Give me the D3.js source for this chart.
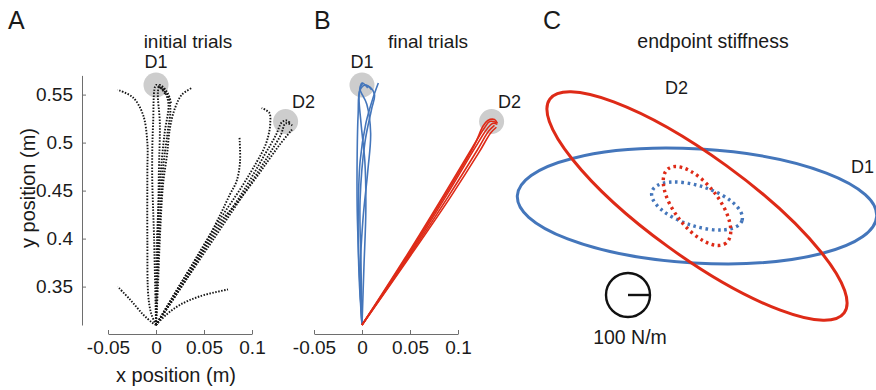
<!DOCTYPE html>
<html>
<head>
<meta charset="utf-8">
<script src="https://cdn.jsdelivr.net/npm/d3@7"></script>
<style>
  body { margin: 0; background: #fff; }
  svg { font-family: "Liberation Sans", Arial, sans-serif; }
</style>
</head>
<body>
<svg width="876" height="390"></svg>
<script>
// ---- data (hand positions in m, stiffness in N/m) ----
const xTicks = [-0.05, 0, 0.05, 0.1];
const yTicks = [0.35, 0.4, 0.45, 0.5, 0.55];
const targetNames = ['D1', 'D2'];
const targetX = [0, 0.135];
const targetY = [0.56, 0.522];

const initialD1 = [
  [[0, 0.31], [-0.005, 0.322], [-0.008, 0.34], [-0.009, 0.40], [-0.009, 0.47], [-0.009, 0.50], [-0.0135, 0.529], [-0.024, 0.547], [-0.04, 0.555]],
  [[0, 0.31], [0.002, 0.35], [0.004, 0.40], [0.0073, 0.456], [0.0115, 0.4875], [0.0146, 0.5156], [0.02, 0.5365], [0.027, 0.55], [0.0375, 0.557]],
  [[0, 0.31], [-0.002, 0.40], [-0.004, 0.47], [-0.003, 0.52], [0, 0.56], [0.004, 0.558], [0.01, 0.55]],
  [[0, 0.31], [0.002, 0.40], [0.003, 0.47], [0.004, 0.52], [0.002, 0.553], [0.004, 0.56], [0.012, 0.552], [0.016, 0.54]],
  [[0, 0.31], [0.003, 0.40], [0.007, 0.47], [0.012, 0.51], [0.015, 0.535], [0.012, 0.55], [0.006, 0.558]],
  [[0, 0.31], [0.001, 0.40], [0.005, 0.47], [0.009, 0.51], [0.013, 0.54], [0.009, 0.553], [0.002, 0.559]],
  [[0, 0.31], [-0.004, 0.3125], [-0.0135, 0.321], [-0.027, 0.3365], [-0.04, 0.35]]
];

const initialD2 = [
  [[0, 0.31], [0.011, 0.321], [0.025, 0.331], [0.046, 0.34], [0.075, 0.347]],
  [[0, 0.31], [0.025, 0.352], [0.05, 0.392], [0.067, 0.425], [0.077, 0.446], [0.084, 0.46], [0.0875, 0.48], [0.087, 0.505]],
  [[0, 0.31], [0.03, 0.36], [0.06, 0.41], [0.09, 0.455], [0.105, 0.48], [0.113, 0.495], [0.117, 0.507], [0.119, 0.52], [0.118, 0.531], [0.11, 0.536]],
  [[0, 0.31], [0.03, 0.357], [0.06, 0.403], [0.09, 0.448], [0.113, 0.487], [0.125, 0.508], [0.131, 0.521], [0.136, 0.523], [0.14, 0.52]],
  [[0, 0.31], [0.032, 0.358], [0.065, 0.407], [0.095, 0.452], [0.118, 0.488], [0.13, 0.508], [0.135, 0.52], [0.142, 0.518]],
  [[0, 0.31], [0.033, 0.36], [0.067, 0.417], [0.084, 0.437], [0.101, 0.459], [0.116, 0.48], [0.129, 0.498], [0.142, 0.514]]
];

const finalD1 = [
  [[0, 0.31], [-0.003, 0.36], [-0.004, 0.42], [-0.002, 0.48], [0.004, 0.52], [0.011, 0.545], [0.017, 0.562]],
  [[0, 0.31], [-0.002, 0.36], [0.001, 0.42], [0.006, 0.47], [0.009, 0.51], [0.005, 0.54], [-0.002, 0.556], [0.001, 0.562]],
  [[0, 0.31], [-0.003, 0.37], [-0.005, 0.43], [-0.005, 0.49], [-0.004, 0.53], [-0.002, 0.555], [0.004, 0.56], [0.01, 0.555]],
  [[0, 0.31], [0.002, 0.37], [0.004, 0.43], [0.003, 0.48], [-0.001, 0.52], [-0.003, 0.55], [0, 0.562], [0.006, 0.557]],
  [[0, 0.31], [-0.001, 0.37], [-0.002, 0.44], [0.003, 0.50], [0.01, 0.535], [0.013, 0.55], [0.008, 0.558], [0.002, 0.56]]
];

const finalD2 = [
  [[0, 0.31], [0.045, 0.38], [0.085, 0.445], [0.115, 0.495], [0.128, 0.516], [0.133, 0.522], [0.14, 0.521]],
  [[0, 0.31], [0.047, 0.38], [0.088, 0.445], [0.118, 0.495], [0.13, 0.514], [0.136, 0.52], [0.141, 0.519]],
  [[0, 0.31], [0.048, 0.38], [0.09, 0.444], [0.12, 0.492], [0.132, 0.512], [0.138, 0.518]],
  [[0, 0.31], [0.046, 0.38], [0.087, 0.446], [0.117, 0.497], [0.126, 0.517], [0.131, 0.523], [0.138, 0.524], [0.141, 0.52]],
  [[0, 0.31], [0.049, 0.38], [0.092, 0.443], [0.122, 0.49], [0.134, 0.51], [0.14, 0.516]]
];

// stiffness ellipses: semi-axes (N/m) and orientation (deg, clockwise on screen)
const ellipseKeys = ['D1', 'D2', 'D1 dotted', 'D2 dotted'];
const majorAxis = [818, 827, 215, 214];
const minorAxis = [259, 227, 91, 100];
const orientation = [3.3, 36, 18, 52];
const scaleBarValue = 100;

// ---- styles ----
const blue = '#4476bb';
const red = '#de2a17';
const ellipseColor = { 'D1': blue, 'D2': red, 'D1 dotted': blue, 'D2 dotted': red };
const textColor = '#1a1a1a';
const axisColor = '#6e6e6e';

const svg = d3.select('svg');

// shared y scale, equal aspect with x (960 px per metre)
const yScale = d3.scaleLinear().domain([0.31, 0.57]).range([325, 75.4]);

const line = d3.line()
  .x(d => d[0])
  .y(d => d[1])
  .curve(d3.curveCatmullRom.alpha(0.5));

const trajPanel = (selection, { xScale, trials, showYAxis, label, title, d2Label }) => {
  const g = selection.append('g');

  g.selectAll('circle.target')
    .data(targetNames)
    .join('circle')
    .attr('class', 'target')
    .attr('cx', (d, i) => xScale(targetX[i]))
    .attr('cy', (d, i) => yScale(targetY[i]))
    .attr('r', 12.5)
    .attr('fill', '#cdcdcd');

  trials.forEach(t => {
    g.append('g').selectAll('path')
      .data(t.paths)
      .join('path')
      .attr('d', p => line(p.map(d => [xScale(d[0]), yScale(d[1])])))
      .attr('fill', 'none')
      .attr('stroke', t.color)
      .attr('stroke-width', t.width)
      .attr('stroke-dasharray', t.dash);
  });

  const xAxis = g.append('g')
    .attr('transform', 'translate(0,334)')
    .attr('color', axisColor)
    .call(d3.axisBottom(xScale).tickValues(xTicks).tickFormat(d => String(d))
      .tickSizeInner(-4).tickSizeOuter(0).tickPadding(7));
  xAxis.selectAll('text').attr('font-size', 19).attr('fill', textColor).attr('font-family', null);

  if (showYAxis) {
    const yAxis = g.append('g')
      .attr('transform', 'translate(82,0)')
      .attr('color', axisColor)
      .call(d3.axisLeft(yScale).tickValues(yTicks).tickFormat(d => String(d))
        .tickSizeInner(-4).tickSizeOuter(0).tickPadding(9));
    yAxis.selectAll('text').attr('font-size', 19).attr('fill', textColor).attr('font-family', null);

    g.append('text')
      .attr('transform', 'translate(35,188) rotate(-90)')
      .attr('text-anchor', 'middle')
      .attr('font-size', 20)
      .attr('fill', textColor)
      .text('y position (m)');

    g.append('text')
      .attr('x', 176)
      .attr('y', 382)
      .attr('text-anchor', 'middle')
      .attr('font-size', 20)
      .attr('fill', textColor)
      .text('x position (m)');
  }

  g.append('text')
    .attr('x', label.x).attr('y', 29)
    .attr('font-size', 25)
    .attr('fill', textColor)
    .text(label.text);

  g.append('text')
    .attr('x', title.x).attr('y', 48)
    .attr('text-anchor', 'middle')
    .attr('font-size', 19)
    .attr('fill', textColor)
    .text(title.text);

  g.append('text')
    .attr('x', xScale(targetX[0])).attr('y', 68)
    .attr('text-anchor', 'middle')
    .attr('font-size', 18)
    .attr('fill', textColor)
    .text(targetNames[0]);

  g.append('text')
    .attr('x', d2Label).attr('y', 108)
    .attr('font-size', 18)
    .attr('fill', textColor)
    .text(targetNames[1]);
};

// A
svg.call(trajPanel, {
  xScale: d3.scaleLinear().domain([-0.05, 0.1]).range([108, 252]),
  trials: [
    { paths: initialD1.concat(initialD2), color: '#151515', width: 1.9, dash: '1.5 1.5' }
  ],
  showYAxis: true,
  label: { x: 8, text: 'A' },
  title: { x: 188, text: 'initial trials' },
  d2Label: 292
});

// B
svg.call(trajPanel, {
  xScale: d3.scaleLinear().domain([-0.05, 0.1]).range([314, 458]),
  trials: [
    { paths: finalD1, color: blue, width: 1.6, dash: null },
    { paths: finalD2, color: red, width: 1.6, dash: null }
  ],
  showYAxis: false,
  label: { x: 314, text: 'B' },
  title: { x: 428, text: 'final trials' },
  d2Label: 498
});

// C - endpoint stiffness
const stiffPanel = (selection, { cx, cy }) => {
  const g = selection.append('g');
  const kScale = d3.scaleLinear().domain([0, 100]).range([0, 22]);

  g.selectAll('ellipse')
    .data(ellipseKeys)
    .join('ellipse')
    .attr('transform', (d, i) => `translate(${cx},${cy}) rotate(${orientation[i]})`)
    .attr('rx', (d, i) => kScale(majorAxis[i]))
    .attr('ry', (d, i) => kScale(minorAxis[i]))
    .attr('fill', 'none')
    .attr('stroke', d => ellipseColor[d])
    .attr('stroke-width', (d, i) => i < 2 ? 3 : 3.4)
    .attr('stroke-dasharray', (d, i) => i < 2 ? null : '2.6 3.6');

  // scale circle
  const sx = 628, sy = 295;
  g.append('circle')
    .attr('cx', sx).attr('cy', sy)
    .attr('r', kScale(scaleBarValue))
    .attr('fill', 'none')
    .attr('stroke', '#111')
    .attr('stroke-width', 2.4);
  g.append('line')
    .attr('x1', sx).attr('y1', sy)
    .attr('x2', sx + kScale(scaleBarValue)).attr('y2', sy)
    .attr('stroke', '#111')
    .attr('stroke-width', 2.4);
  g.append('text')
    .attr('x', sx + 2).attr('y', 344)
    .attr('text-anchor', 'middle')
    .attr('font-size', 19.5)
    .attr('fill', textColor)
    .text(`${scaleBarValue} N/m`);

  g.append('text').attr('x', 543).attr('y', 29).attr('font-size', 25).attr('fill', textColor).text('C');
  g.append('text').attr('x', 713).attr('y', 48).attr('text-anchor', 'middle')
    .attr('font-size', 19.5).attr('fill', textColor).text('endpoint stiffness');
  g.append('text').attr('x', 665).attr('y', 94).attr('font-size', 18).attr('fill', textColor).text('D2');
  g.append('text').attr('x', 851).attr('y', 173).attr('font-size', 18).attr('fill', textColor).text('D1');
};

svg.call(stiffPanel, { cx: 697, cy: 206 });
</script>
</body>
</html>
